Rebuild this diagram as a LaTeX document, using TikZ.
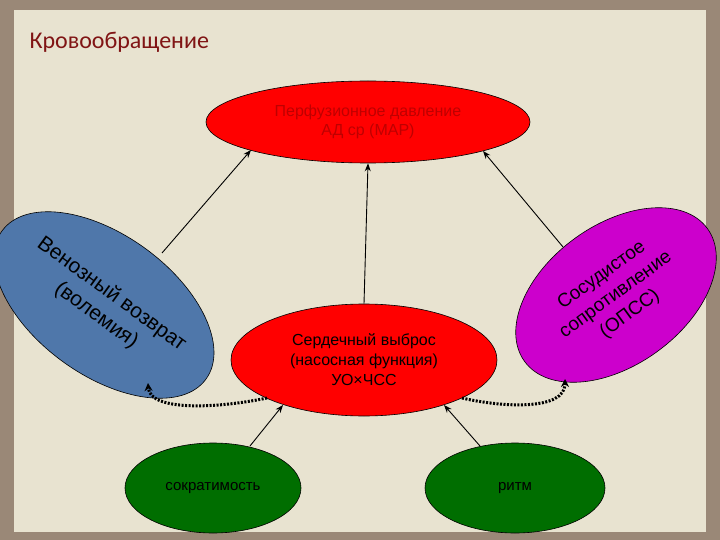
\documentclass[tikz,border=0pt]{standalone}
\usepackage{fontspec}
\setmainfont{Liberation Sans}
\newfontfamily\titlefont{Carlito}
\usetikzlibrary{shapes.geometric,arrows.meta}
\begin{document}
\begin{tikzpicture}[x=1pt,y=-1pt,
  oval/.style={ellipse,draw=black,line width=0.6pt,align=center,inner sep=0pt},
  solidarr/.style={-{Stealth[length=8pt,width=6pt]},line width=0.9pt},
  dotarr/.style={-{Stealth[length=8pt,width=8pt]},line width=3pt,dash pattern=on 2pt off 1.5pt}]
\fill[black!55!brown!60] (0,0) rectangle (720,540);
\fill[fill={rgb,255:red,232;green,227;blue,208}] (14,10) rectangle (706,532);
\useasboundingbox (0,0) rectangle (720,540);
\node[anchor=west,text={rgb,255:red,128;green,20;blue,20},font=\titlefont\fontsize{24}{28}\selectfont] (title) at (26,42) {Кровообращение};
\node[oval,fill=red,minimum width=324,minimum height=82,text={rgb,255:red,190;green,0;blue,0},font=\fontsize{16}{19}\selectfont] (top) at (368,122) {Перфузионное давление\\АД ср (МАР)};
\node[oval,fill=red,minimum width=266,minimum height=112,font=\fontsize{16}{20}\selectfont] (mid) at (364,360) {Сердечный выброс\\(насосная функция)\\УО×ЧСС};
\node[oval,fill={rgb,255:red,79;green,119;blue,170},minimum width=220,minimum height=140,rotate=-36,font=\fontsize{21}{26}\selectfont] (left) at (104,305) {Венозный возврат\\(волемия)};
\node[oval,fill={rgb,255:red,204;green,0;blue,204},minimum width=226,minimum height=140,rotate=36,font=\fontsize{19}{24}\selectfont] (right) at (616,295) {Сосудистое\\сопротивление\\(ОПСС)};
\node[oval,fill={rgb,255:red,0;green,110;blue,0},minimum width=176,minimum height=90,font=\fontsize{15}{18}\selectfont] (sok) at (213,488) {сократимость};
\node[oval,fill={rgb,255:red,0;green,110;blue,0},minimum width=180,minimum height=90,font=\fontsize{15}{18}\selectfont] (rit) at (515,488) {ритм};
\coordinate (la) at (162,253);
\coordinate (ra) at (563,247);
\coordinate (sa) at (250,446);
\coordinate (rb) at (480,446);
\draw[solidarr] (la) -- (251,150);
\draw[solidarr] (mid.north) -- (top.south);
\draw[solidarr] (ra) -- (483,151);
\draw[solidarr] (sa) -- (283,405);
\draw[solidarr] (rb) -- (444,405);
\draw[dotarr] (267,398) .. controls (220,408) and (150,412) .. (148,383);
\draw[dotarr] (462,398) .. controls (505,408) and (565,410) .. (565,379);
\end{tikzpicture}
\end{document}
